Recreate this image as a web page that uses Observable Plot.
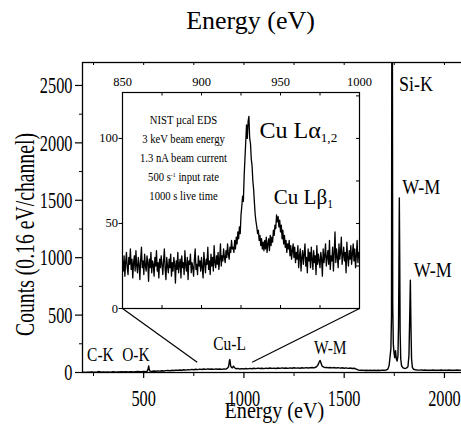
<!DOCTYPE html>
<html>
<head>
<meta charset="utf-8">
<script src="https://cdn.jsdelivr.net/npm/d3@7"></script>
<script src="https://cdn.jsdelivr.net/npm/@observablehq/plot@0.6"></script>
<style>
  body { margin: 0; background: #fff; }
  #wrap { position: relative; width: 461px; height: 430px; overflow: hidden; background: #fff; }
  #wrap svg { position: absolute; }
</style>
</head>
<body>
<div id="wrap"></div>
<script>
// ---------- main spectrum (energy in eV, counts per 0.16 eV channel) ----------
const mainEnergy = [
  200,210,220,230,240,250,260,270,275,280,
  290,300,310,320,330,340,350,360,370,380,
  390,400,410,420,430,440,450,460,470,480,
  490,500,510,518,522,525,528,532,540,550,
  560,570,580,590,600,610,620,630,640,650,
  660,670,680,690,700,710,720,730,740,750,
  760,770,780,790,800,810,820,830,840,850,
  860,870,880,890,900,910,918,923,926,928,
  930,932,934,938,942,948,953,960,970,980,
  990,1000,1010,1020,1030,1040,1050,1060,1070,1080,
  1090,1100,1110,1120,1130,1140,1150,1160,1170,1180,
  1190,1200,1210,1220,1230,1240,1250,1260,1270,1280,
  1290,1300,1310,1320,1330,1340,1350,1360,1368,1375,
  1380,1384,1390,1398,1405,1410,1420,1430,1440,1450,
  1460,1470,1480,1490,1500,1510,1520,1530,1540,1550,
  1560,1570,1580,1590,1600,1610,1620,1630,1640,1650,
  1660,1670,1680,1690,1700,1710,1718,1724,1729,1733,
  1736,1738,1740,1742,1745,1748,1752,1756,1760,1764,
  1768,1771,1773,1775,1777,1779,1782,1786,1792,1800,
  1810,1818,1823,1827,1830,1833,1836,1840,1846,1855,
  1865,1875,1885,1895,1905,1915,1925,1935,1945,1955,
  1965,1975,1985,1995,2005,2015,2025,2035,2045,2055,
  2065,2075,2085,2095,2105,2110
];
const mainCounts = [
  2,1,3,2,4,2,3,5,9,6,
  3,4,2,5,3,4,6,3,5,4,
  6,4,7,5,6,8,5,7,9,6,
  8,10,8,12,30,58,25,12,10,13,
  11,14,12,15,13,16,18,15,19,17,
  21,19,22,20,24,21,25,23,27,24,
  28,25,29,26,30,27,31,28,30,27,
  31,28,30,27,31,29,38,50,80,108,
  113,85,55,44,40,55,42,33,36,30,
  34,31,35,32,36,33,37,34,38,35,
  37,34,38,35,39,36,38,35,39,36,
  40,37,39,36,40,37,41,38,40,37,
  41,38,42,39,41,43,40,48,62,90,
  105,85,55,47,42,45,41,44,40,43,
  39,42,38,41,37,40,36,39,35,37,
  30,22,19,21,18,20,17,19,18,20,
  17,19,18,21,19,22,30,60,140,210,
  500,3600,3600,600,250,180,130,190,120,100,
  140,400,900,1520,1000,350,120,60,42,35,
  38,50,150,500,803,400,120,45,28,24,
  22,21,23,20,22,19,21,20,22,19,
  21,20,22,19,21,20,22,19,21,20,
  22,19,21,20,21,20
];

// ---------- inset: 850–1000 eV, one value every 0.5 eV ----------
const insetStart = 850;
const insetStep = 0.5;
const insetCounts = [
  28,22,31,19,27,33,24,20,30,26,   // 850
  35,23,29,18,27,31,22,34,25,21,   // 855
  30,26,17,29,36,24,28,20,32,25,   // 860
  22,31,27,16,29,24,33,21,28,26,   // 865
  19,30,25,34,22,27,18,29,24,31,   // 870
  26,20,28,35,23,17,30,25,21,29,   // 875
  24,32,19,27,22,30,26,15,28,23,   // 880
  33,21,26,29,18,31,24,27,20,34,   // 885
  25,22,30,17,28,26,32,21,27,24,   // 890
  19,29,35,23,26,20,31,25,28,22,   // 895
  30,24,18,33,27,21,29,26,36,23,   // 900
  28,20,32,25,30,22,37,27,24,31,   // 905
  26,33,23,29,38,25,31,28,35,30,   // 910
  27,34,30,38,32,29,36,33,40,35,   // 915
  36,33,40,35,42,38,45,41,48,44,   // 920
  55,60,66,63,78,88,98,108,100,110,// 925
  113,100,97,88,84,75,70,62,55,51, // 930
  48,44,46,40,43,37,41,35,39,34,   // 935
  40,35,42,33,38,41,34,43,37,42,   // 940
  39,46,43,49,47,55,51,54,48,52,   // 945
  45,49,41,46,38,43,36,40,33,38,   // 950
  35,40,31,37,29,34,38,30,36,27,   // 955
  33,29,37,24,31,35,22,30,34,26,   // 960
  32,38,25,30,21,35,28,33,24,36,   // 965
  29,23,34,27,31,20,37,26,32,28,   // 970
  24,33,29,19,35,27,31,38,25,30,   // 975
  34,26,40,23,31,28,36,22,33,45,   // 980
  27,35,30,24,38,29,33,42,26,31,   // 985
  36,28,33,21,39,30,25,34,29,37,   // 990
  26,32,38,28,35,24,31,40,27,33,   // 995
  30                               // 1000
];

// ---------- ticks ----------
const xMajor = [500, 1000, 1500, 2000];
const xMinor = [250, 750, 1250, 1750];
const yMajor = [0, 500, 1000, 1500, 2000, 2500];
const yMinor = [250, 750, 1250, 1750, 2250];
const insetXLabels = [850, 900, 950, 1000];
const insetXTicks = [850, 875, 900, 925, 950, 975, 1000];
const insetYLabels = [0, 50, 100];
const insetYMinor = [25, 50, 75, 100, 125];

// ---------- text ----------
const titleText = "Energy (eV)";
const xLabelText = "Energy (eV)";
const yLabelText = "Counts (0.16 eV/channel)";
// axis-title anchor points, in main-chart data units
const titleAt = {x: 1033, y: 2988};
const xLabelAt = {x: 1152, y: -392};
const yLabelAt = {x: -49, y: 1202};
const upperPeakNames = ["Si-K", "W-M", "W-M"];
const upperPeakAt = [1773, 1790, 1847];
const upperPeakY = [2456, 1556, 836];
const lowerPeakNames = ["C-K", "O-K", "Cu-L", "W-M"];
const lowerPeakAt = [218, 393, 847, 1349];
const lowerPeakY = [104, 100, 198, 163];
const insetNotes = ["NIST \u00b5cal EDS", "3 keV beam energy", "1.3 nA beam current", "500 s^{-1} input rate", "1000 s live time"];
const insetNotesY = [108.5, 97.3, 86.1, 75.0, 63.8];
const insetNotesX = 888.6;
const insetPeakNames = ["Cu L\u03b1_{1,2}", "Cu L\u03b2_{1}"];
const insetPeakAt = [936.7, 945.8];
const insetPeakY = [100.5, 61.6];
// zoom connector lines (inset corners -> main spectrum)
const zoomFrom = [[394.5, 557], [1576.6, 557]];
const zoomTo = [[767, 90], [1041, 90]];

const FONT = "'Liberation Serif', 'Times New Roman', serif";

const mainData = mainEnergy.map((e, i) => ({e, c: mainCounts[i]}));
const insetData = insetCounts.map((c, i) => ({e: insetStart + i * insetStep, c}));
const links = zoomFrom.map((f, i) => ({x1: f[0], y1: f[1], x2: zoomTo[i][0], y2: zoomTo[i][1]}));
const upper = upperPeakNames.map((t, i) => ({t, x: upperPeakAt[i], y: upperPeakY[i]}));
const lower = lowerPeakNames.map((t, i) => ({t, x: lowerPeakAt[i], y: lowerPeakY[i]}));
const notes = insetNotes.map((t, i) => ({t, x: insetNotesX, y: insetNotesY[i]}));
const insetPeaks = insetPeakNames.map((t, i) => ({t, x: insetPeakAt[i], y: insetPeakY[i]}));

const tag = (name) => () => name; // per-element aria-label, used to pick texts afterwards

const main = Plot.plot({
  width: 466, height: 430,
  marginLeft: 82, marginRight: 0, marginTop: 62, marginBottom: 58,
  style: {fontFamily: FONT, background: "white", color: "black", maxWidth: "none", overflow: "visible"},
  x: {domain: [195, 2110]},
  y: {domain: [0, 2700]},
  marks: [
    Plot.axisY({ticks: yMajor, tickSize: 7, tickPadding: 3, fontSize: 24, label: null, tickFormat: d => String(d), strokeWidth: 1.2}),
    Plot.axisY({ticks: yMinor, tickSize: 3, tickFormat: () => "", label: null}),
    Plot.axisX({ticks: xMajor, tickSize: 6, tickPadding: 10, fontSize: 24, label: null, tickFormat: d => String(d), strokeWidth: 1.2}),
    Plot.axisX({ticks: xMinor, tickSize: 4, tickFormat: () => "", label: null}),
    Plot.tickX(xMajor.concat(xMinor), {x: d => d, insetBottom: 307, stroke: "black"}),
    Plot.line(mainData, {x: "e", y: "c", stroke: "black", strokeWidth: 1.4, clip: true}),
    Plot.link(links, {x1: "x1", y1: "y1", x2: "x2", y2: "y2", stroke: "black", strokeWidth: 1.2}),
    Plot.text(upper, {x: "x", y: "y", text: "t", textAnchor: "start", lineAnchor: "bottom", fontSize: 20, fill: "black", ariaLabel: tag("upper-peaks")}),
    Plot.text(lower, {x: "x", y: "y", text: "t", textAnchor: "start", lineAnchor: "bottom", fontSize: 18, fill: "black", ariaLabel: tag("lower-peaks")}),
    Plot.text([xLabelAt], {x: "x", y: "y", text: () => xLabelText, textAnchor: "middle", lineAnchor: "bottom", fontSize: 24, fill: "black", ariaLabel: tag("xlabel")}),
    Plot.text([yLabelAt], {x: "x", y: "y", text: () => yLabelText, rotate: -90, textAnchor: "middle", lineAnchor: "bottom", fontSize: 27, fill: "black", ariaLabel: tag("ylabel")}),
    Plot.text([titleAt], {x: "x", y: "y", text: () => titleText, textAnchor: "middle", lineAnchor: "bottom", fontSize: 26, fill: "black", ariaLabel: tag("title")}),
    Plot.frame({stroke: "black", strokeWidth: 1.3})
  ]
});

const inset = Plot.plot({
  width: 271, height: 250,
  marginLeft: 30, marginRight: 4, marginTop: 30, marginBottom: 4,
  style: {fontFamily: FONT, background: "transparent", color: "black", maxWidth: "none", overflow: "visible"},
  x: {domain: [850, 1000]},
  y: {domain: [0, 127]},
  marks: [
    Plot.axisX({anchor: "top", ticks: insetXLabels, tickSize: 0, tickPadding: 7, fontSize: 12.5, label: null, tickFormat: d => String(d)}),
    Plot.axisY({ticks: insetYLabels, tickSize: 3.5, tickPadding: 1, fontSize: 12.5, label: null, tickFormat: d => String(d)}),
    Plot.tickX(insetXTicks, {x: d => d, insetBottom: 212.5, stroke: "black"}),
    Plot.tickX(insetXTicks, {x: d => d, insetTop: 213, stroke: "black"}),
    Plot.tickY(insetYMinor, {y: d => d, insetLeft: 234, stroke: "black"}),
    Plot.line(insetData, {x: "e", y: "c", stroke: "black", strokeWidth: 1.3, clip: true}),
    Plot.text(notes, {x: "x", y: "y", text: "t", textAnchor: "middle", lineAnchor: "bottom", fontSize: 13, fill: "black", ariaLabel: tag("notes")}),
    Plot.text(insetPeaks, {x: "x", y: "y", text: "t", textAnchor: "start", lineAnchor: "bottom", fontSize: (d, i) => i === 0 ? 24 : 21, fill: "black", ariaLabel: tag("inset-peaks")}),
    Plot.frame({stroke: "black", strokeWidth: 1.2})
  ]
});

// ----- post-processing: sub/superscripts and condensed glyphs -----
function richText(svg) {
  d3.select(svg).selectAll("text").each(function () {
    const s = this.textContent;
    if (!/[_^]\{/.test(s)) return;
    const parts = s.split(/([_^]\{[^}]*\})/);
    this.textContent = "";
    for (const p of parts) {
      if (!p) continue;
      const m = p.match(/^([_^])\{([^}]*)\}$/);
      const ts = document.createElementNS("http://www.w3.org/2000/svg", "tspan");
      if (m) {
        ts.textContent = m[2];
        ts.setAttribute("font-size", "55%");
        ts.setAttribute("baseline-shift", m[1] === "_" ? "-30%" : "60%");
      } else ts.textContent = p;
      this.appendChild(ts);
    }
  });
}
function condense(svg, selector, sx) {
  d3.select(svg).selectAll(selector).each(function () {
    const t = this.getAttribute("transform") || "";
    const x = +(this.getAttribute("x") || 0);
    this.setAttribute("transform", `${t} translate(${x},0) scale(${sx},1) translate(${-x},0)`);
  });
}
richText(inset);
condense(main, 'g[aria-label="y-axis tick label"] text', 0.68);
condense(main, 'g[aria-label="x-axis tick label"] text', 0.68);
condense(main, 'text[aria-label="lower-peaks"]', 0.86);
condense(main, 'text[aria-label="upper-peaks"]', 0.9);
condense(main, 'text[aria-label="xlabel"]', 0.84);
condense(main, 'text[aria-label="ylabel"]', 0.73);
condense(inset, 'text[aria-label="notes"]', 0.82);

main.style.left = "0px"; main.style.top = "0px";
inset.style.left = "92px"; inset.style.top = "62px";
const wrap = document.getElementById("wrap");
wrap.appendChild(main);
wrap.appendChild(inset);
</script>
</body>
</html>
